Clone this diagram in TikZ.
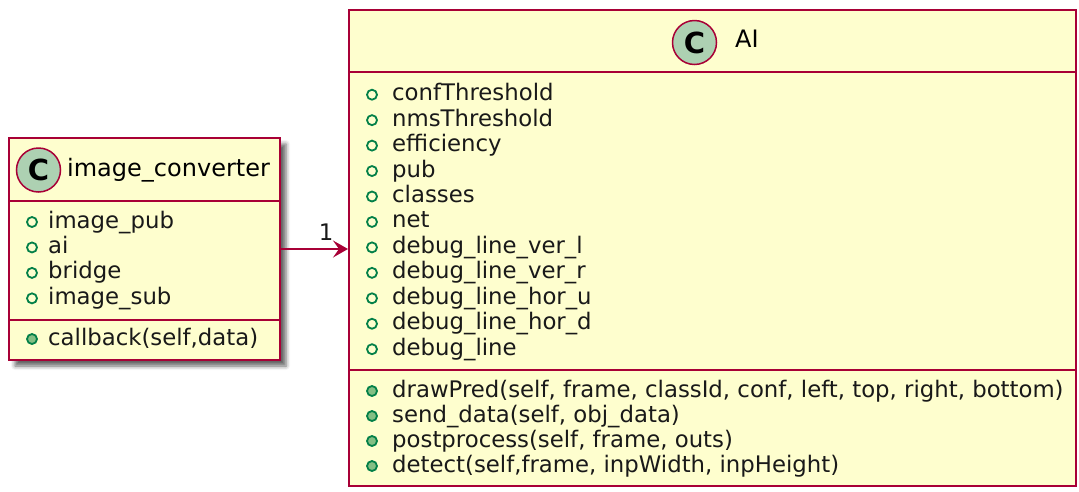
\documentclass[tikz,border=0pt]{standalone}
\usepackage{fontspec}
\setmainfont{DejaVu Sans}
\usetikzlibrary{arrows.meta,shadows.blur}

\definecolor{classfill}{HTML}{FEFECE}
\definecolor{classborder}{HTML}{A80036}
\definecolor{classspot}{HTML}{ADD1B2}
\definecolor{classicon}{HTML}{038048}
\definecolor{classdot}{HTML}{84BE84}

\tikzset{
  classbox/.style={rectangle, draw=classborder, fill=classfill, line width=2pt, inner sep=0pt},
  compart/.style={draw=classborder, line width=2pt},
  spot/.style={circle, draw=classborder, fill=classspot, line width=1.5pt, minimum size=44pt, inner sep=0pt, font=\fontsize{29}{29}\selectfont\bfseries},
  classname/.style={anchor=base west, inner sep=0pt, font=\fontsize{24}{28}\selectfont},
  member/.style={anchor=base west, inner sep=0pt, text=black!90, font=\fontsize{22.8}{27}\selectfont},
  field/.style={circle, draw=classicon, line width=1.8pt, minimum size=10pt, inner sep=0pt},
  method/.style={field, fill=classdot},
  assoc/.style={draw=classborder, line width=1.5pt, -{Stealth[length=15pt,width=17pt,inset=6pt]}},
}

\begin{document}
\begin{tikzpicture}[x=1pt,y=-1pt]
	%%%%% START %%%%%
	\useasboundingbox (0,0) rectangle (1079,491);
	
	% image_converter
	\node[classbox, minimum width=271pt, minimum height=222pt,
	  blur shadow={shadow xshift=6pt, shadow yshift=-6pt, shadow blur radius=4pt, shadow opacity=60}]
	  (conv) at (144.5,249) {};
	\draw[compart] (conv.west |- 0,201) -- (conv.east |- 0,201);
	\draw[compart] (conv.west |- 0,320) -- (conv.east |- 0,320);
	\node[spot] (convspot) at (38.5,170) {C};
	\node[classname] (convname) at (67,176) {image\_converter};
	
	\foreach \name [count=\i from 0] in {image\_pub, ai, bridge, image\_sub}{
		\node[field] (convf\i) at (32,228+25.45*\i-6) {};
		\node[member] (convt\i) at (48,228+25.45*\i) {\name};
	}
	\node[method] (convm0) at (32,345-6) {};
	\node[member] (convn0) at (48,345) {callback(self,data)};
	
	% AI
	\node[classbox, minimum width=727pt, minimum height=476pt] (ai) at (712.5,248) {};
	\draw[compart] (ai.west |- 0,72) -- (ai.east |- 0,72);
	\draw[compart] (ai.west |- 0,370) -- (ai.east |- 0,370);
	\node[spot] (aispot) at (694.5,42.5) {C};
	\node[classname] (ainame) at (735,47) {AI};
	
	\foreach \name [count=\i from 0] in {confThreshold, nmsThreshold, efficiency, pub, classes, net,
	  debug\_line\_ver\_l, debug\_line\_ver\_r, debug\_line\_hor\_u, debug\_line\_hor\_d, debug\_line}{
		\node[field] (aif\i) at (372,100.7+25.45*\i-6) {};
		\node[member] (ait\i) at (392,100.7+25.45*\i) {\name};
	}
	\foreach \name [count=\i from 0] in {{drawPred(self, frame, classId, conf, left, top, right, bottom)},
	  {send\_data(self, obj\_data)}, {postprocess(self, frame, outs)}, {detect(self,frame, inpWidth, inpHeight)}}{
		\node[method] (aim\i) at (372,397+25*\i-6) {};
		\node[member] (ain\i) at (392,397+25*\i) {\name};
	}
	
	% association
	\draw[assoc] (conv.east) -- (conv.east -| ai.west);
	\node[member, anchor=base] (mult) at (326,240) {1};
	
	%%%%% END %%%%%
\end{tikzpicture}
\end{document}
